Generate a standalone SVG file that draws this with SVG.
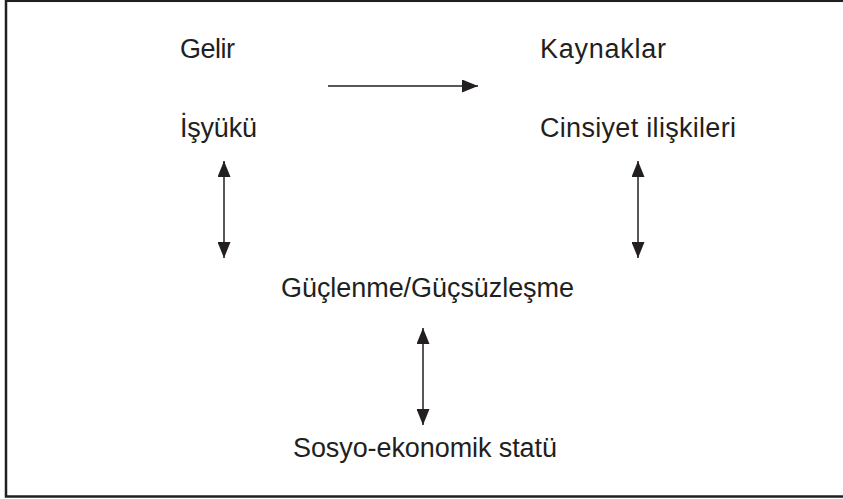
<svg xmlns="http://www.w3.org/2000/svg" width="843" height="499" viewBox="0 0 843 499">
<style>
text{font-family:"Liberation Sans",Arial,Helvetica,sans-serif;font-size:27px;fill:#231f20}
.c{stroke:#231f20;stroke-width:1.5;fill:none}
</style>
<defs>
<marker id="ah" viewBox="0 0 16 13" refX="16" refY="6.5" markerWidth="16" markerHeight="13" markerUnits="userSpaceOnUse" orient="auto-start-reverse">
<path d="M0,0 L16,6.5 L0,13 Z" fill="#231f20"/>
</marker>
</defs>
<rect x="6" y="0.8" width="850" height="495.7" fill="#fff" stroke="#231f20" stroke-width="2.5"/>
<g id="gelir"><text x="180" y="58" textLength="55" lengthAdjust="spacing">Gelir</text></g>
<g id="kaynaklar"><text x="540" y="58" textLength="126" lengthAdjust="spacing">Kaynaklar</text></g>
<g id="isyuku"><text x="180" y="137" textLength="77" lengthAdjust="spacing">İşyükü</text></g>
<g id="cinsiyet"><text x="540" y="137" textLength="196" lengthAdjust="spacing">Cinsiyet ilişkileri</text></g>
<g id="guclenme"><text x="281" y="297" textLength="293" lengthAdjust="spacing">Güçlenme/Güçsüzleşme</text></g>
<g id="statu"><text x="293" y="457" textLength="264" lengthAdjust="spacing">Sosyo-ekonomik statü</text></g>
<g id="connectors">
<line class="c" x1="328" y1="86" x2="478" y2="86" marker-end="url(#ah)"/>
<line class="c" x1="224" y1="161" x2="224" y2="258" marker-start="url(#ah)" marker-end="url(#ah)"/>
<line class="c" x1="638" y1="161" x2="638" y2="258" marker-start="url(#ah)" marker-end="url(#ah)"/>
<line class="c" x1="423" y1="328" x2="423" y2="425" marker-start="url(#ah)" marker-end="url(#ah)"/>
</g>
</svg>
